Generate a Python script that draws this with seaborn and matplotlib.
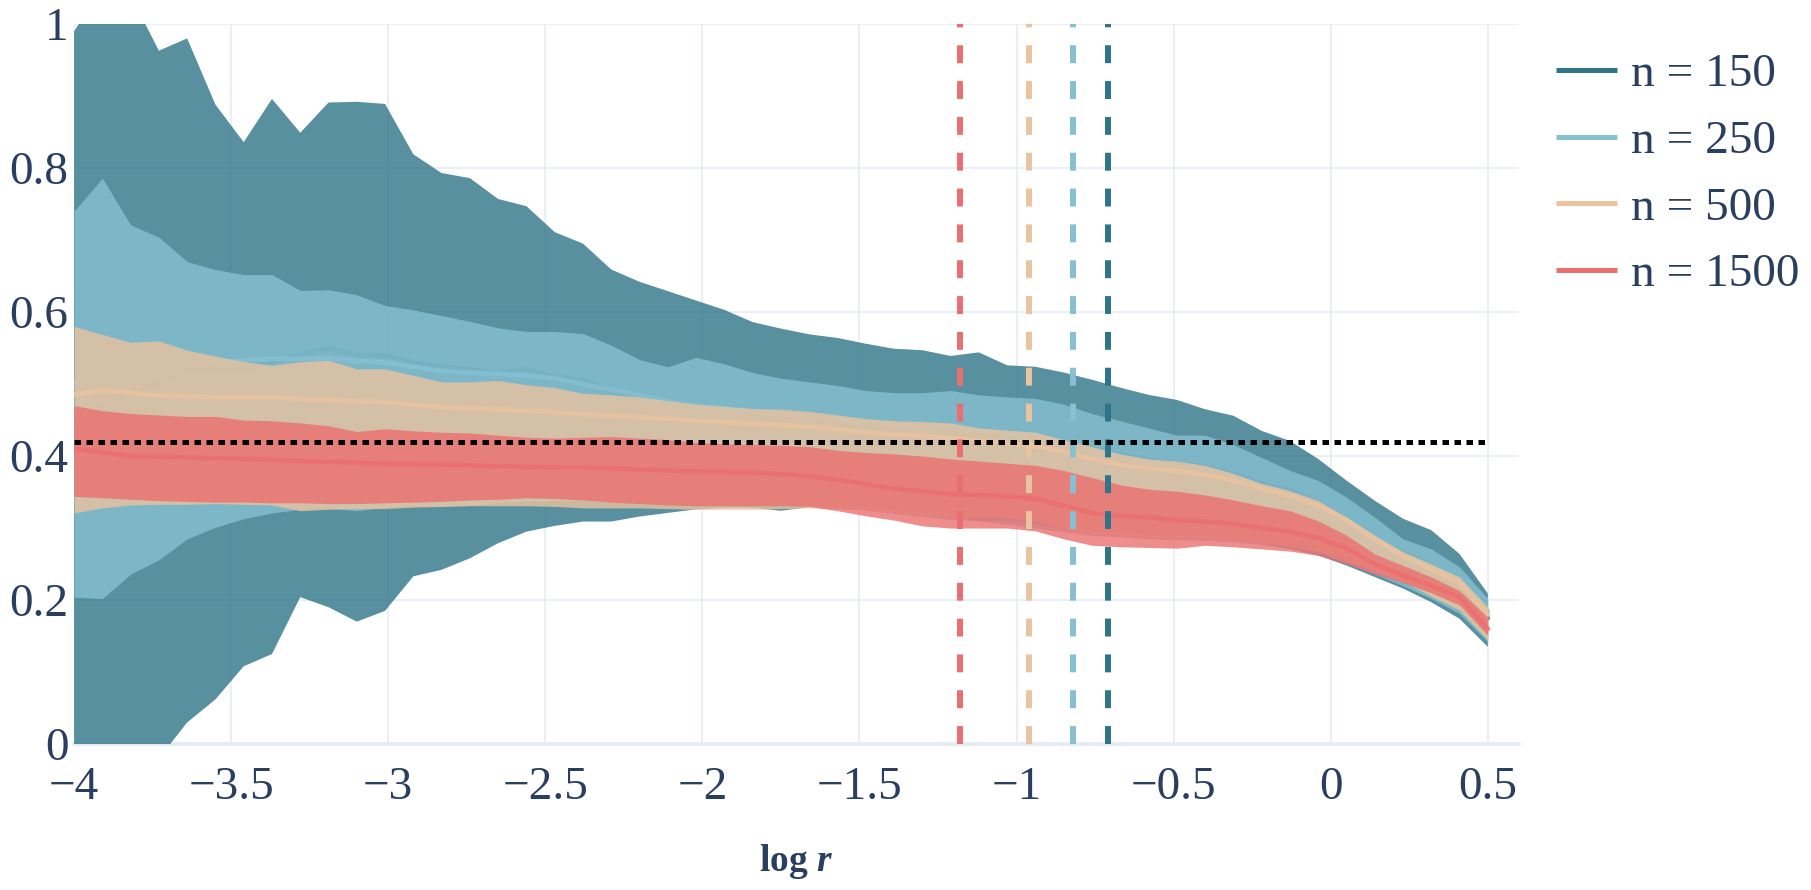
import numpy as np
import pandas as pd
import matplotlib
matplotlib.use("Agg")
import matplotlib.pyplot as plt
import seaborn as sns
from matplotlib.lines import Line2D

# grid of log r values
log_r = [-4.0, -3.91, -3.82, -3.73, -3.64, -3.55, -3.46, -3.37, -3.28, -3.19,
         -3.1, -3.01, -2.92, -2.83, -2.74, -2.65, -2.56, -2.47, -2.38, -2.29,
         -2.2, -2.11, -2.02, -1.93, -1.84, -1.75, -1.66, -1.57, -1.48, -1.39,
         -1.3, -1.21, -1.12, -1.03, -0.94, -0.85, -0.76, -0.67, -0.58, -0.49,
         -0.4, -0.31, -0.22, -0.13, -0.04, 0.05, 0.14, 0.23, 0.32, 0.41, 0.5]

# n = 150
n150_mid = [0.45, 0.47, 0.49, 0.50, 0.52, 0.52, 0.52, 0.53, 0.54, 0.55,
            0.54, 0.54, 0.53, 0.525, 0.52, 0.515, 0.52, 0.51, 0.505, 0.49,
            0.48, 0.475, 0.47, 0.465, 0.46, 0.455, 0.45, 0.447, 0.443, 0.44,
            0.438, 0.435, 0.432, 0.428, 0.425, 0.418, 0.41, 0.402, 0.395, 0.39,
            0.385, 0.375, 0.362, 0.352, 0.335, 0.31, 0.285, 0.265, 0.248, 0.222, 0.175]
n150_lo = [-0.25, -0.20, -0.12, -0.02, 0.030, 0.062, 0.108, 0.125, 0.204, 0.190,
           0.170, 0.185, 0.233, 0.242, 0.258, 0.279, 0.295, 0.303, 0.309, 0.309,
           0.316, 0.321, 0.326, 0.328, 0.328, 0.324, 0.329, 0.330, 0.330, 0.325,
           0.320, 0.315, 0.310, 0.310, 0.305, 0.300, 0.295, 0.295, 0.290, 0.290,
           0.290, 0.285, 0.278, 0.271, 0.262, 0.248, 0.232, 0.216, 0.197, 0.174, 0.135]
n150_hi = [0.99, 1.05, 1.04, 0.963, 0.980, 0.888, 0.836, 0.896, 0.849, 0.891,
           0.892, 0.889, 0.819, 0.793, 0.786, 0.757, 0.747, 0.711, 0.695, 0.659,
           0.642, 0.629, 0.616, 0.603, 0.586, 0.577, 0.569, 0.564, 0.556, 0.549,
           0.547, 0.539, 0.544, 0.526, 0.524, 0.516, 0.506, 0.495, 0.485, 0.478,
           0.465, 0.456, 0.435, 0.421, 0.396, 0.366, 0.338, 0.313, 0.297, 0.264, 0.209]

# n = 250
n250_mid = [0.50, 0.51, 0.515, 0.52, 0.525, 0.53, 0.533, 0.535, 0.535, 0.536,
            0.532, 0.530, 0.524, 0.518, 0.516, 0.514, 0.512, 0.508, 0.500, 0.492,
            0.484, 0.476, 0.470, 0.466, 0.462, 0.458, 0.455, 0.451, 0.446, 0.443,
            0.441, 0.440, 0.435, 0.432, 0.429, 0.418, 0.408, 0.398, 0.390, 0.386,
            0.381, 0.371, 0.357, 0.347, 0.333, 0.311, 0.286, 0.262, 0.246, 0.226, 0.184]
n250_lo = [0.204, 0.202, 0.236, 0.256, 0.285, 0.301, 0.313, 0.321, 0.326, 0.328,
           0.324, 0.329, 0.331, 0.330, 0.332, 0.335, 0.337, 0.338, 0.338, 0.337,
           0.336, 0.335, 0.334, 0.333, 0.332, 0.331, 0.330, 0.328, 0.325, 0.320,
           0.316, 0.312, 0.310, 0.305, 0.300, 0.295, 0.290, 0.288, 0.285, 0.284,
           0.283, 0.281, 0.277, 0.272, 0.265, 0.252, 0.236, 0.220, 0.202, 0.181, 0.142]
n250_hi = [0.740, 0.786, 0.721, 0.704, 0.670, 0.659, 0.652, 0.652, 0.630, 0.631,
           0.624, 0.609, 0.603, 0.595, 0.587, 0.578, 0.573, 0.573, 0.570, 0.554,
           0.534, 0.524, 0.537, 0.528, 0.516, 0.508, 0.503, 0.498, 0.491, 0.488,
           0.488, 0.491, 0.485, 0.482, 0.480, 0.472, 0.459, 0.449, 0.439, 0.429,
           0.429, 0.416, 0.398, 0.380, 0.366, 0.343, 0.315, 0.285, 0.271, 0.246, 0.202]

# n = 500
n500_mid = [0.485, 0.491, 0.488, 0.484, 0.483, 0.482, 0.481, 0.482, 0.479, 0.478,
            0.476, 0.475, 0.471, 0.468, 0.466, 0.465, 0.463, 0.461, 0.458, 0.456,
            0.454, 0.452, 0.449, 0.447, 0.445, 0.443, 0.441, 0.437, 0.433, 0.430,
            0.428, 0.425, 0.421, 0.418, 0.414, 0.406, 0.396, 0.388, 0.383, 0.379,
            0.374, 0.366, 0.355, 0.345, 0.331, 0.311, 0.284, 0.261, 0.243, 0.224, 0.180]
n500_lo = [0.321, 0.328, 0.332, 0.333, 0.333, 0.334, 0.333, 0.332, 0.324, 0.326,
           0.327, 0.327, 0.329, 0.330, 0.331, 0.331, 0.331, 0.330, 0.328, 0.328,
           0.328, 0.327, 0.326, 0.326, 0.326, 0.327, 0.328, 0.327, 0.325, 0.322,
           0.318, 0.315, 0.315, 0.314, 0.310, 0.300, 0.292, 0.290, 0.288, 0.287,
           0.286, 0.284, 0.280, 0.275, 0.268, 0.255, 0.240, 0.226, 0.205, 0.186, 0.144]
n500_hi = [0.580, 0.569, 0.558, 0.560, 0.547, 0.539, 0.531, 0.526, 0.531, 0.533,
           0.521, 0.521, 0.512, 0.503, 0.503, 0.505, 0.499, 0.495, 0.487, 0.485,
           0.482, 0.477, 0.472, 0.469, 0.466, 0.465, 0.462, 0.457, 0.452, 0.449,
           0.448, 0.446, 0.439, 0.436, 0.433, 0.423, 0.413, 0.403, 0.396, 0.393,
           0.387, 0.376, 0.362, 0.352, 0.338, 0.315, 0.290, 0.267, 0.250, 0.232, 0.190]

# n = 1500
n1500_mid = [0.410, 0.405, 0.400, 0.399, 0.398, 0.397, 0.396, 0.395, 0.393, 0.392,
             0.391, 0.389, 0.389, 0.388, 0.387, 0.386, 0.385, 0.384, 0.384, 0.383,
             0.381, 0.380, 0.379, 0.378, 0.377, 0.375, 0.372, 0.367, 0.361, 0.355,
             0.351, 0.347, 0.346, 0.344, 0.341, 0.331, 0.321, 0.317, 0.315, 0.311,
             0.309, 0.306, 0.300, 0.295, 0.286, 0.272, 0.250, 0.234, 0.220, 0.204, 0.160]
n1500_lo = [0.344, 0.342, 0.340, 0.338, 0.337, 0.336, 0.336, 0.335, 0.335, 0.334,
            0.334, 0.335, 0.336, 0.337, 0.339, 0.340, 0.342, 0.341, 0.339, 0.336,
            0.334, 0.332, 0.331, 0.331, 0.331, 0.331, 0.330, 0.324, 0.317, 0.311,
            0.303, 0.300, 0.300, 0.300, 0.296, 0.285, 0.276, 0.274, 0.273, 0.272,
            0.276, 0.274, 0.271, 0.268, 0.262, 0.250, 0.236, 0.224, 0.210, 0.193, 0.151]
n1500_hi = [0.470, 0.463, 0.459, 0.457, 0.455, 0.455, 0.450, 0.449, 0.446, 0.442,
            0.434, 0.438, 0.435, 0.433, 0.432, 0.429, 0.426, 0.425, 0.426, 0.427,
            0.425, 0.423, 0.419, 0.417, 0.416, 0.415, 0.413, 0.408, 0.405, 0.403,
            0.400, 0.396, 0.393, 0.390, 0.387, 0.380, 0.370, 0.360, 0.354, 0.351,
            0.346, 0.339, 0.331, 0.324, 0.310, 0.290, 0.264, 0.248, 0.232, 0.213, 0.176]

labels = ["n = 150", "n = 250", "n = 500", "n = 1500"]
colors = ["#2e7589", "#86c0d2", "#eac39f", "#ec6f6f"]
crit_log_r = [-0.71, -0.82, -0.96, -1.18]
ref_level = 0.42

xticks = [-4, -3.5, -3, -2.5, -2, -1.5, -1, -0.5, 0, 0.5]
xtick_labels = ["\u22124", "\u22123.5", "\u22123", "\u22122.5", "\u22122",
                "\u22121.5", "\u22121", "\u22120.5", "0", "0.5"]
yticks = [0, 0.2, 0.4, 0.6, 0.8, 1]
ytick_labels = ["0", "0.2", "0.4", "0.6", "0.8", "1"]

mids = [n150_mid, n250_mid, n500_mid, n1500_mid]
los = [n150_lo, n250_lo, n500_lo, n1500_lo]
his = [n150_hi, n250_hi, n500_hi, n1500_hi]

frames = []
for lab, m, lo, hi in zip(labels, mids, los, his):
    frames.append(pd.DataFrame({"log_r": log_r, "n": lab, "mean": m, "lo": lo, "hi": hi}))
df = pd.concat(frames, ignore_index=True)

sns.set_theme(style="white")
plt.rcParams["font.family"] = ["Liberation Serif", "DejaVu Serif"]
plt.rcParams["mathtext.fontset"] = "custom"
plt.rcParams["mathtext.rm"] = "Liberation Serif:bold"
plt.rcParams["mathtext.it"] = "Liberation Serif:italic:bold"
plt.rcParams["axes.unicode_minus"] = True

text_col = "#2a3f5f"
grid_col = "#e6ebf4"

fig = plt.figure(figsize=(18.11, 8.9), dpi=100)
ax = fig.add_axes([0.0409, 0.164, 0.798, 0.809])

for i, (lab, col) in enumerate(zip(labels, colors)):
    sub = df[df["n"] == lab]
    ax.fill_between(sub["log_r"], sub["lo"], sub["hi"], color=col, alpha=0.8,
                    linewidth=0, zorder=2 + i)
    sns.lineplot(data=sub, x="log_r", y="mean", color=col, lw=3.4, alpha=0.85,
                 ax=ax, zorder=2.5 + i, legend=False)

for xv, col in zip(crit_log_r, colors):
    ax.axvline(xv, color=col, lw=4.3, dashes=(3, 3), zorder=10)

ax.plot([log_r[0], log_r[-1]], [ref_level, ref_level], color="black", lw=3.6,
        dashes=(1.3, 1.1), zorder=11, dash_capstyle="butt")

ax.set_xlim(-4, 0.6)
ax.set_ylim(0, 1)
ax.set_xticks(xticks)
ax.set_xticklabels(xtick_labels)
ax.set_yticks(yticks)
ax.set_yticklabels(ytick_labels)
ax.tick_params(axis="both", length=0, labelsize=34, colors=text_col)
ax.tick_params(axis="x", pad=16)
ax.tick_params(axis="y", pad=4)
ax.grid(True, color=grid_col, lw=1.2)
ax.set_axisbelow(True)
ax.axhline(0, color=grid_col, lw=3, zorder=1, clip_on=False)
for s in ax.spines.values():
    s.set_visible(False)

ax.set_xlabel(r"$\log\,r$", fontsize=27, color=text_col, va="center")
ax.xaxis.set_label_coords(0.5, -0.163)
ax.set_ylabel("")

handles = [Line2D([0], [0], color=c, lw=3.6, solid_capstyle="butt") for c in colors]
fig.legend(handles, labels, loc="upper left", bbox_to_anchor=(0.859, 0.94),
           frameon=False, fontsize=34, labelcolor=text_col, handlelength=1.3,
           handletextpad=0.3, labelspacing=0.5, borderpad=0, borderaxespad=0)

fig.savefig("out.png", dpi=100)
